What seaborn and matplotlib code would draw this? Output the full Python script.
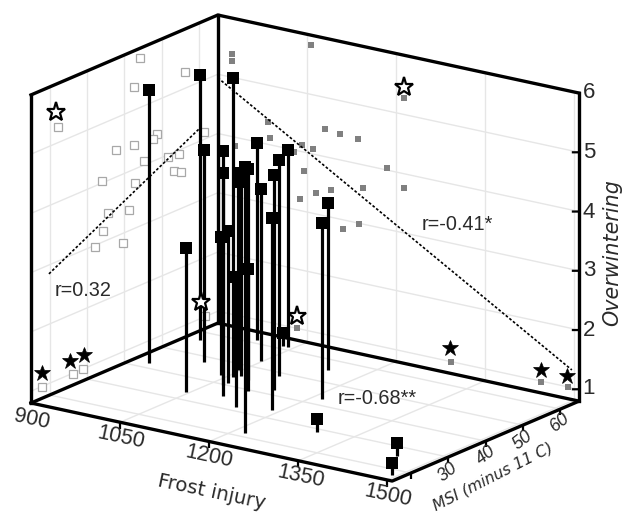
import matplotlib
matplotlib.use("Agg")
import matplotlib.pyplot as plt
import seaborn as sns
from mpl_toolkits.mplot3d import proj3d

# ---- data ----
frost = [928, 924, 987, 1045, 1096, 1068, 1039, 1068, 1058, 1140, 1045, 1064, 1218, 1111, 1083,
         988, 1048, 1188, 1138, 1107, 1041, 1033, 1215, 1146, 1296, 1448, 1492]
msi = [42.2, 56.3, 47.6, 33.5, 35.1, 39.7, 43.7, 41.0, 44.0, 31.7, 47.3, 45.0, 21.7, 39.4, 44.0,
       61.4, 53.0, 33.7, 42.2, 48.5, 61.4, 61.3, 42.8, 55.4, 28.6, 25.8, 17.5]
over = [5.41, 5.27, 4.38, 3.23, 4.94, 4.38, 3.13, 3.37, 5.84, 3.00, 3.97, 4.23, 5.29, 4.55, 2.67,
        4.13, 3.70, 4.04, 4.43, 4.45, 4.13, 1.02, 3.77, 3.62, 1.02, 1.02, 1.00]

wall_msi = [44.1, 42.7, 56.2, 22.3, 48.6, 47.7, 61.3, 42.5, 37.7, 54.5, 51.7, 45.3, 53.3, 55.2,
            33.9, 42.8, 35.7, 41.1, 34.2, 32.1, 39.6, 61.5, 17.9, 26.2, 29.0]
wall_msi_over = [5.84, 5.38, 5.28, 5.27, 4.44, 4.37, 4.12, 4.42, 4.46, 3.93, 3.96, 4.07, 3.69, 3.62,
                 4.03, 3.76, 3.45, 3.36, 3.19, 2.98, 2.84, 1.01, 0.99, 0.99, 0.99]

wall_frost = [924, 924, 1057, 1213, 985, 988, 1080, 1105, 1136, 1041, 1061, 1028, 929, 1045, 1185,
              1065, 1091, 1145, 1213, 1039, 1110, 1137, 1034, 1293, 1444, 1489]
wall_frost_over = [5.39, 5.28, 5.84, 5.27, 4.37, 4.11, 4.47, 4.44, 4.42, 4.11, 4.08, 3.96, 3.85, 3.68,
                   4.03, 3.36, 3.46, 3.61, 3.76, 3.20, 2.84, 2.99, 1.01, 1.00, 0.99, 0.99]

star_open_msi = [21.7, 60.6]
star_open_msi_over = [5.53, 1.28]
star_fill_msi = [17.9, 25.4, 29.2]
star_fill_msi_over = [1.23, 1.22, 1.22]
star_open_frost = [1213, 1033]
star_open_frost_over = [5.46, 1.20]
star_fill_frost = [1291, 1444, 1488]
star_fill_frost_over = [1.22, 1.19, 1.18]

fit_msi = [19.8, 60.2]
fit_msi_over = [2.85, 4.22]
fit_frost = [900, 1496]
fit_frost_over = [4.94, 1.30]

frost_ticks = [900, 1050, 1200, 1350, 1500]
msi_ticks = [20, 30, 40, 50, 60]
msi_tick_labels = ["30", "40", "50", "60"]
over_ticks = [1, 2, 3, 4, 5, 6]
F0, F1 = 900, 1508
M0, M1 = 15, 65
Z0, Z1 = 0.8, 6

# ---- style ----
sns.set_theme(style="white")
plt.rcParams["font.family"] = ["Liberation Sans", "DejaVu Sans"]
W, H = 623, 513
BLACK, GRAY = sns.color_palette(["#000000", "#808080"])
GRID = "#e6e6e6"
TEXT = "#2a2a2a"

fig = plt.figure(figsize=(W / 100, H / 100), dpi=100)
ax = fig.add_subplot(projection="3d", computed_zorder=False, proj_type="ortho")
ax.set_box_aspect((443, 322.4, 323.3))
ax.view_init(elev=17.7, azim=-54.6)
ax.set_xlim(F0, F1)
ax.set_ylim(M0, M1)
ax.set_zlim(Z0, Z1)
ax.set_axis_off()


def project(f, m, z):
    X, Y, _ = proj3d.proj_transform(f, m, z, ax.get_proj())
    return ax.transData.transform((X, Y))


def place(side, px, py):
    ax.set_position([px / W, py / H, side / W, side / H])
    ax.apply_aspect()


# fit the axes so that the box corners land where the reference has them
side = 513.0
place(side, 55, 0)
a, b = project(F0, M0, Z0), project(F1, M1, Z0)
side *= 548 / (b[0] - a[0])
place(side, 0, 0)
a = project(F0, M0, Z0)
place(side, 31 - a[0], (H - 403) - a[1])


def line3(f, m, z, color=BLACK, lw=2.4, zorder=3, cap="projecting"):
    ax.plot(f, m, z, color=color, lw=lw, zorder=zorder, solid_capstyle=cap)


# grid
for t in msi_ticks:
    line3([F0, F0], [t, t], [Z0, Z1], GRID, 1.0, 1)
    line3([F0, F1], [t, t], [Z0, Z0], GRID, 1.0, 1)
for t in frost_ticks[1:]:
    line3([t, t], [M1, M1], [Z0, Z1], GRID, 1.0, 1)
    line3([t, t], [M0, M1], [Z0, Z0], GRID, 1.0, 1)
for t in over_ticks[:-1]:
    line3([F0, F0], [M0, M1], [t, t], GRID, 1.0, 1)
    line3([F0, F1], [M1, M1], [t, t], GRID, 1.0, 1)

# wall projections
ax.plot([F0] * len(wall_msi), wall_msi, wall_msi_over, ls="none", marker="s", ms=5.2, mfc="white",
        mec="#a8a8a8", mew=0.9, zorder=2)
ax.plot(wall_frost, [M1] * len(wall_frost), wall_frost_over, ls="none", marker="s", ms=4.4, mfc=GRAY,
        mec=GRAY, mew=0, zorder=2)

# regression lines
dots = dict(color=BLACK, lw=1.2, ls=(0, (1.6, 1.2)), zorder=2.5)
ax.plot([F0, F0], fit_msi, fit_msi_over, **dots)
ax.plot(fit_frost, [M1, M1], fit_frost_over, **dots)

# frame
line3([F0, F0], [M0, M0], [Z0, Z1])
line3([F0, F0], [M1, M1], [Z0, Z1])
line3([F1, F1], [M1, M1], [Z0, Z1])
line3([F0, F0, F1], [M0, M1, M1], [Z1, Z1, Z1])
line3([F0, F0, F1], [M0, M1, M1], [Z0, Z0, Z0])
line3([F0, F1, F1], [M0, M0, M1], [Z0, Z0, Z0])

# ticks
for t in frost_ticks[1:]:
    line3([t, t], [M0, M0], [Z0, Z0 - 0.11], BLACK, 1.6, 3, "butt")
for t in msi_ticks:
    line3([F1, F1], [t, t], [Z0, Z0 - 0.1], BLACK, 1.6, 3, "butt")
for t in over_ticks[:-1]:
    line3([F1, F1 - 8], [M1, M1 - 0.65], [t, t], BLACK, 1.6, 3, "butt")

# stems and points
for f, m, z in zip(frost, msi, over):
    line3([f, f], [m, m], [Z0, z], BLACK, 2.3, 4, "butt")
ax.plot(frost, msi, over, ls="none", marker="s", ms=8.4, color=BLACK, mew=0, zorder=5)

# stars
for wall_f, wall_m, wall_z, face, size, edge in [
    ([F0] * 2, star_open_msi, star_open_msi_over, "white", 14, 1.6),
    (star_open_frost, [M1] * 2, star_open_frost_over, "white", 14, 1.6),
    ([F0] * 3, star_fill_msi, star_fill_msi_over, "black", 12, 0.5),
    (star_fill_frost, [M1] * 3, star_fill_frost_over, "black", 12, 0.5),
]:
    ax.plot(wall_f, wall_m, wall_z, ls="none", marker="*", ms=size, mfc=face, mec="black", mew=edge, zorder=6)


# text
def label(s, px, py, size, rot=0, **kw):
    fig.text(px / W, 1 - py / H, s, ha="center", va="center", fontsize=size, rotation=rot,
             rotation_mode="anchor", color=TEXT, **kw)


for s, px, py in zip([str(t) for t in frost_ticks], [31.6, 120.7, 209, 301, 388], [419, 438, 457, 477, 496]):
    label(s, px, py, 15.5, -12)
for s, px, py in zip(msi_tick_labels, [448, 485.7, 522.7, 560], [472, 455.7, 440, 422.7]):
    label(s, px, py, 13, 38, style="italic")
for t, py in zip(over_ticks, [389, 331, 270, 212, 152, 93]):
    label(str(t), 589, py, 16)
label("r=0.32", 83.5, 291, 14.3)
label("r=-0.41*", 457, 225, 14.3)
label("r=-0.68**", 377, 398, 14.3)
label("Frost injury", 212, 492, 14.2, -12, family="DejaVu Sans")
label("MSI (minus 11 C)", 493, 477, 11.2, 27, family="DejaVu Sans", style="italic")
label("Overwintering", 612, 253, 14.9, 90, family="DejaVu Sans", style="italic")

fig.savefig("out.png", dpi=100)
